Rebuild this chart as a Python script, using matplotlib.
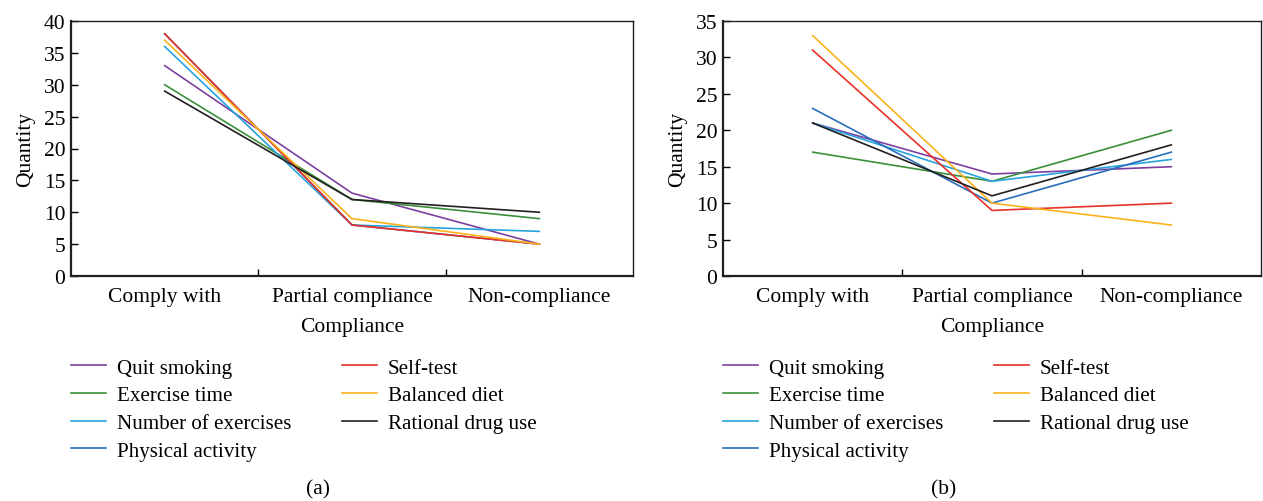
import matplotlib.pyplot as plt
from matplotlib.lines import Line2D

plt.rcParams['font.family'] = ['Liberation Serif', 'DejaVu Serif']

categories = ['Comply with', 'Partial compliance', 'Non-compliance']
series_names = ['Quit smoking', 'Exercise time', 'Number of exercises', 'Physical activity',
                'Self-test', 'Balanced diet', 'Rational drug use']
colors = ['#7B3FA0', '#3A8F3A', '#27A4DD', '#2A6EBB', '#E8312A', '#F9B21B', '#231F20']

# (a)
quit_a = [33, 13, 5]
exercise_a = [30, 12, 9]
number_a = [36, 8, 7]
physical_a = [38, 8, 5]
selftest_a = [38, 8, 5]
diet_a = [37, 9, 5]
drug_a = [29, 12, 10]

# (b)
quit_b = [21, 14, 15]
exercise_b = [17, 13, 20]
number_b = [21, 13, 16]
physical_b = [23, 10, 17]
selftest_b = [31, 9, 10]
diet_b = [33, 10, 7]
drug_b = [21, 11, 18]

data_a = [quit_a, exercise_a, number_a, physical_a, selftest_a, diet_a, drug_a]
data_b = [quit_b, exercise_b, number_b, physical_b, selftest_b, diet_b, drug_b]

W, H = 1263, 502
FS = 15.5
fig = plt.figure(figsize=(W / 100, H / 100), dpi=100)


def panel(left, right, values, ymax, ystep, legend_x, caption, caption_x):
    ax = fig.add_axes([left / W, 1 - 277 / H, (right - left) / W, 255 / H])
    xs = [0.5, 1.5, 2.5]
    for vals, c in zip(values, colors):
        ax.plot(xs, vals, color=c, lw=1.2)
    ax.set_xlim(0, 3)
    ax.set_ylim(0, ymax)
    ax.set_yticks(range(0, ymax + 1, ystep))
    ax.set_xticks([1, 2])
    ax.set_xticklabels([])
    ax.set_xticks(xs, minor=True)
    ax.set_xticklabels(categories, minor=True)
    ax.tick_params(axis='x', which='minor', length=0, pad=8, labelsize=FS)
    ax.tick_params(axis='x', which='major', direction='in', length=5, width=1)
    ax.tick_params(axis='y', direction='in', length=5, width=1, labelsize=FS, pad=4)
    for s in ['left', 'bottom']:
        ax.spines[s].set_linewidth(1.6)
        ax.spines[s].set_color('#231F20')
    for s in ['top', 'right']:
        ax.spines[s].set_linewidth(1.0)
        ax.spines[s].set_color('#231F20')
    ax.set_xlabel('Compliance', fontsize=FS, labelpad=8)
    ax.set_ylabel('Quantity', fontsize=FS, labelpad=6)

    handles = [Line2D([], [], color=c, lw=1.2) for c in colors]
    fig.legend(handles, series_names, ncol=2, frameon=False, fontsize=15.1,
               loc='upper left', bbox_to_anchor=(legend_x / W, 1 - 359 / H),
               handlelength=1.67, handletextpad=0.52, columnspacing=2.4,
               labelspacing=0.38, borderaxespad=0, borderpad=0)
    fig.text(caption_x / W, 1 - 490 / H, caption, ha='center', va='center', fontsize=FS)
    return ax


panel(71, 633, data_a, 40, 5, 71, '(a)', 318)
panel(723, 1261, data_b, 35, 5, 723, '(b)', 944)

fig.savefig('out.png', dpi=100)
